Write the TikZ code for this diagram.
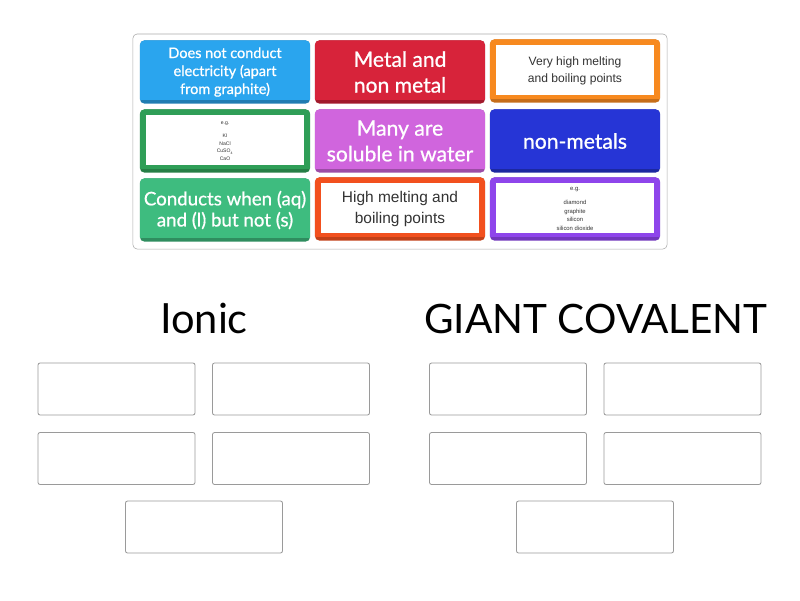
\documentclass[tikz,border=0pt]{standalone}
\usepackage{fontspec}
\setmainfont{Lato}
\newfontfamily\cardfont[FakeBold=0.8]{Lato}
\newfontfamily\arialfont{Liberation Sans}
\usepackage{tikz}

\definecolor{framegray}{HTML}{ABABAB}
\definecolor{slotgray}{HTML}{9A9A9A}
\definecolor{textgray}{HTML}{333333}
\definecolor{skyblue}{HTML}{2AA5EE}
\definecolor{cherry}{HTML}{D7233A}
\definecolor{tangerine}{HTML}{F7891F}
\definecolor{forest}{HTML}{2F9E57}
\definecolor{orchid}{HTML}{D065DD}
\definecolor{royal}{HTML}{2635D6}
\definecolor{mint}{HTML}{3EBC7F}
\definecolor{flame}{HTML}{F2501E}
\definecolor{violet}{HTML}{8E45EB}

\tikzset{
  tile/.style={rounded corners=3pt, minimum width=4.25cm, minimum height=1.575cm,
    inner sep=0pt, fill=#1!75!black, text=white, align=center,
    path picture={\fill[#1, sharp corners] (path picture bounding box.north west)
      rectangle ([yshift=0.1cm]path picture bounding box.south east);}},
  imgtile/.style={rounded corners=3pt, minimum width=4.25cm, minimum height=1.575cm,
    inner sep=0pt, fill=#1!80!black, text=textgray, align=center,
    path picture={\fill[#1, sharp corners] (path picture bounding box.north west)
      rectangle ([yshift=0.1cm]path picture bounding box.south east);
      \fill[white, sharp corners] ([xshift=0.15cm,yshift=-0.14cm]path picture bounding box.north west)
      rectangle ([xshift=-0.15cm,yshift=0.18cm]path picture bounding box.south east);}},
  slot/.style={draw=slotgray, line width=0.6pt, rounded corners=1.5pt,
    minimum width=3.925cm, minimum height=1.3cm},
  heading/.style={anchor=base, inner sep=0pt}
}

\begin{document}
\begin{tikzpicture}[x=0.025cm, y=-0.025cm]
  \useasboundingbox (0,0) rectangle (800,600);
  % Draw the board holding the cards
  \node[draw=framegray, rounded corners=3pt, minimum width=13.35cm,
    minimum height=5.375cm] (board) at (400,141.5) {};
  % First row of cards
  \node[tile=skyblue, font=\cardfont\fontsize{10.3}{12.8}\selectfont] (noconduct) at (225,72)
    {Does not conduct\\electricity (apart\\from graphite)};
  \node[tile=cherry, font=\cardfont\fontsize{15}{18.3}\selectfont] (metalnon) at (400,72)
    {Metal and\\non metal};
  \node[imgtile=tangerine, font=\arialfont\fontsize{8.6}{12}\selectfont] (veryhigh) at (575,71)
    {Very high melting\\and boiling points};
  % Second row of cards
  \node[imgtile=forest, font=\arialfont\fontsize{3.6}{5.3}\selectfont] (ionicex) at (225,141)
    {e.g.\\[4pt]KI\\NaCl\\CuSO\textsubscript{4}\\CaO};
  \node[tile=orchid, font=\cardfont\fontsize{15}{18.3}\selectfont] (soluble) at (400,141)
    {Many are\\soluble in water};
  \node[tile=royal, font=\cardfont\fontsize{15}{18.3}\selectfont] (nonmetals) at (575,141)
    {non-metals};
  % Third row of cards
  \node[tile=mint, font=\cardfont\fontsize{13.3}{15}\selectfont] (conductsaq) at (225,210)
    {Conducts when (aq)\\and (l) but not (s)};
  \node[imgtile=flame, font=\arialfont\fontsize{11}{15.5}\selectfont] (highmelt) at (400,209)
    {High melting and\\boiling points};
  \node[imgtile=violet, font=\arialfont\fontsize{4.2}{6}\selectfont] (covalentex) at (575,209)
    {e.g.\\[4pt]diamond\\graphite\\silicon\\silicon dioxide};
  % Group headings
  \node[heading, font=\fontsize{29.6}{30}\selectfont] (ionic) at (204,333) {Ionic};
  \node[heading, font=\fontsize{28.8}{30}\selectfont] (giant) at (596,333) {GIANT COVALENT};
  % Empty slots for the ionic group
  \node[slot] (ionicA) at (116.5,389) {};
  \node[slot] (ionicB) at (291,389) {};
  \node[slot] (ionicC) at (116.5,458.5) {};
  \node[slot] (ionicD) at (291,458.5) {};
  \node[slot] (ionicE) at (204,527) {};
  % Empty slots for the giant covalent group
  \node[slot] (giantA) at (508,389) {};
  \node[slot] (giantB) at (682.5,389) {};
  \node[slot] (giantC) at (508,458.5) {};
  \node[slot] (giantD) at (682.5,458.5) {};
  \node[slot] (giantE) at (595,527) {};
\end{tikzpicture}
\end{document}
